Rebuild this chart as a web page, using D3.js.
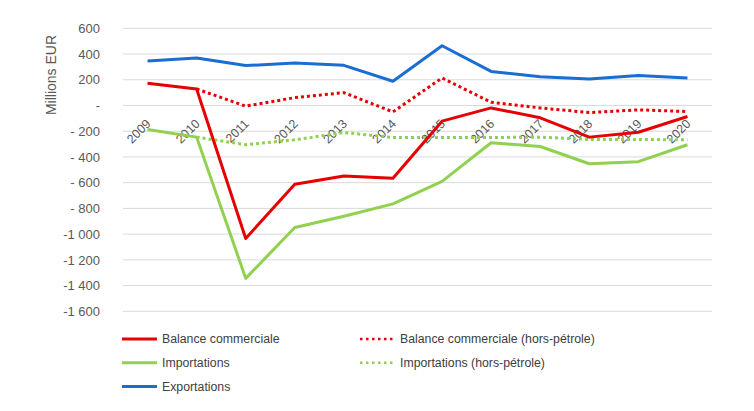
<!DOCTYPE html>
<html><head><meta charset="utf-8">
<script src="https://cdn.jsdelivr.net/npm/d3@7"></script>
<style>
html,body{margin:0;padding:0;background:#fff;}
svg{display:block;font-family:"Liberation Sans",Arial,sans-serif;}
</style></head>
<body><svg id="c" width="754" height="411"></svg>
<script>
const years = ["2009","2010","2011","2012","2013","2014","2015","2016","2017","2018","2019","2020"];
const balance = [172,128,-1034,-613,-549,-566,-122,-19,-96,-246,-208,-86];
const balanceHorsPetrole = [null,128,-5,61,100,-50,214,25,-19,-55,-34,-47];
const importations = [-187,-246,-1344,-949,-861,-765,-590,-290,-319,-453,-437,-305];
const importationsHorsPetrole = [null,-246,-305,-267,-210,-249,-249,-249,-246,-264,-264,-267];
const exportations = [346,369,310,330,312,188,464,265,224,206,234,214];
const yTicks = [600,400,200,0,-200,-400,-600,-800,-1000,-1200,-1400,-1600];

const series = [
  {name:"Balance commerciale", values:balance, color:"#e60000", dash:null, col:0,row:0},
  {name:"Balance commerciale (hors-pétrole)", values:balanceHorsPetrole, color:"#e60000", dash:"3,3", col:1,row:0},
  {name:"Importations", values:importations, color:"#92d050", dash:null, col:0,row:1},
  {name:"Importations (hors-pétrole)", values:importationsHorsPetrole, color:"#92d050", dash:"3,3", col:1,row:1},
  {name:"Exportations", values:exportations, color:"#1a6dd2", dash:null, col:0,row:2}
];

const svg = d3.select("#c");
const x = d3.scaleBand().domain(years).range([123,712]);
const y = d3.scaleLinear().domain([-1600,600]).range([311.3,28.3]);

function fmt(v){
  if(v===0) return "-";
  const a = Math.abs(v);
  let s = a>=1000 ? Math.floor(a/1000)+"\u00a0"+String(a%1000).padStart(3,"0") : String(a);
  return v<0 ? (a>=1000 ? "-"+s : "- "+s) : s;
}

// gridlines
svg.append("g").selectAll("line").data(yTicks).join("line")
  .attr("x1",123).attr("x2",712)
  .attr("y1",d=>y(d)).attr("y2",d=>y(d))
  .attr("stroke","#d9d9d9").attr("stroke-width",1);

// y axis labels
const yAxis = d3.axisLeft(y).tickValues(yTicks).tickFormat(fmt).tickSize(0).tickPadding(0);
const yg = svg.append("g").attr("transform","translate(100,0)").call(yAxis);
yg.select(".domain").remove();
yg.selectAll("text").attr("font-size","13px").attr("fill","#595959")
  .attr("font-family","'Liberation Sans',Arial,sans-serif");

// y title
svg.append("text").attr("transform","translate(56,75) rotate(-90)")
  .attr("text-anchor","middle").attr("font-size","14px").attr("fill","#595959")
  .text("Millions EUR");

// x axis labels at zero line
const xAxis = d3.axisBottom(x).tickSize(0).tickPadding(0);
const xg = svg.append("g").attr("transform",`translate(0,${y(0)})`).call(xAxis);
xg.select(".domain").remove();
xg.selectAll("text")
  .attr("font-size","12.5px").attr("fill","#595959")
  .attr("font-family","'Liberation Sans',Arial,sans-serif")
  .attr("text-anchor","end").attr("dy","0")
  .attr("transform","translate(4,19) rotate(-45)");

// lines
const line = d3.line()
  .defined(d=>d.v!==null)
  .x(d=>x(d.k)+x.bandwidth()/2)
  .y(d=>y(d.v));

const order = [4,2,3,0,1];
order.forEach(i=>{
  const s = series[i];
  const data = years.map((k,j)=>({k, v:s.values[j]}));
  const p = svg.append("path").datum(data).attr("d",line)
    .attr("fill","none").attr("stroke",s.color).attr("stroke-width",3)
    .attr("stroke-linejoin","round");
  if(s.dash) p.attr("stroke-dasharray",s.dash);
});

// legend
const lg = svg.append("g");
series.forEach(s=>{
  const lx = s.col===0 ? 122 : 360;
  const ly = 339 + s.row*23.7;
  const l = lg.append("line").attr("x1",lx).attr("x2",lx+35).attr("y1",ly).attr("y2",ly)
    .attr("stroke",s.color).attr("stroke-width",3);
  if(s.dash) l.attr("stroke-dasharray","2.5,3.5").attr("stroke-width",2.5);
  lg.append("text").attr("x",lx+40).attr("y",ly).attr("dy","0.35em")
    .attr("font-size","12.3px").attr("fill","#404040").text(s.name);
});
</script></body></html>
